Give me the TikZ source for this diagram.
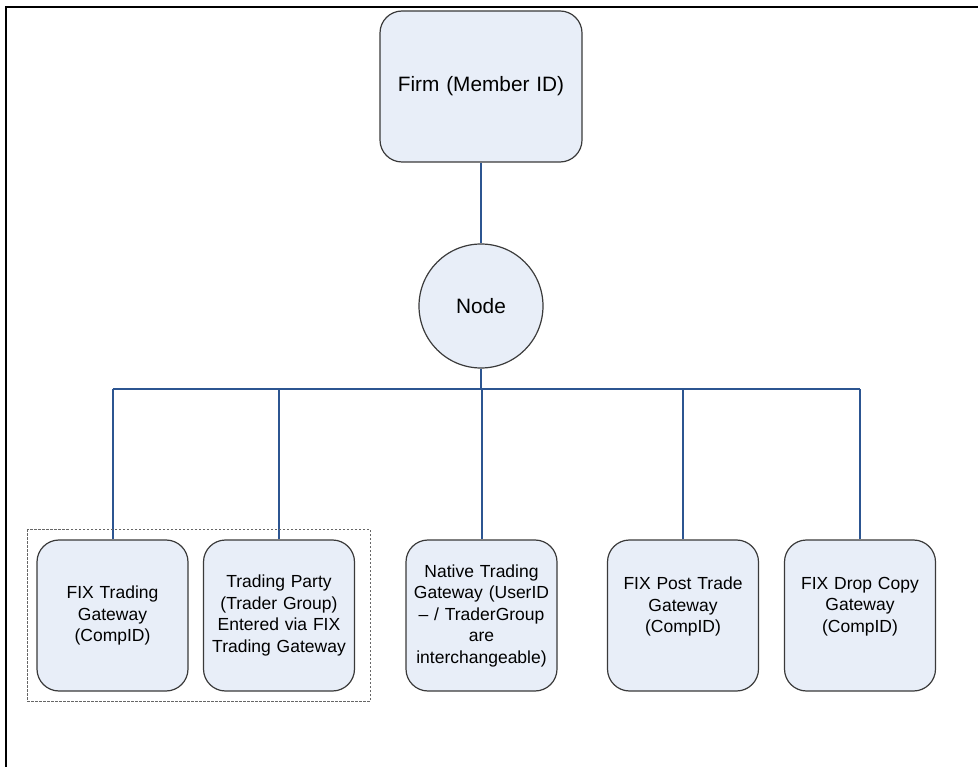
\documentclass[tikz,border=0pt]{standalone}
\usepackage{fontspec}
\setmainfont{Liberation Sans}
\usetikzlibrary{positioning}
\definecolor{boxfill}{HTML}{E8EEF8}
\definecolor{boxedge}{HTML}{3A3A3A}
\definecolor{conn}{HTML}{2C5591}
\tikzset{
  entity/.style={draw=boxedge, line width=1.2pt, fill=boxfill, rounded corners=22pt,
    minimum width=151pt, minimum height=151pt, inner sep=2pt, align=center,
    font=\fontsize{17.5}{21.5}\selectfont, text width=145pt},
  bigtext/.style={font=\fontsize{20.8}{25}\selectfont},
  hub/.style={draw=boxedge, line width=1.2pt, fill=boxfill, circle, minimum size=124pt,
    inner sep=0pt, bigtext},
  link/.style={draw=conn, line width=2pt},
  grouprect/.style={draw=gray!80!black, line width=0.9pt, dash pattern=on 2.5pt off 1.5pt},
  frameline/.style={draw=black, line width=2.6pt}
}
\begin{document}
\begin{tikzpicture}[x=1pt,y=-1pt]
\useasboundingbox (0,0) rectangle (978,767);
\draw[frameline] (6,767) -- (6,7) -- (978,7);

\node[entity, bigtext, minimum width=202pt, text width=196pt] (firm) at (481,86.5) {Firm (Member ID)};
\node[hub] (hub) at (481,306) {Node};

\node[entity] (b1) at (112.5,615.5) {FIX Trading\\Gateway\\(CompID)};
\node[entity] (b2) at (279,615.5) {Trading Party\\(Trader Group)\\Entered via FIX\\Trading Gateway};
\node[entity] (b3) at (481.5,615.5) {Native Trading\\Gateway (UserID\\– / TraderGroup\\are\\interchangeable)};
\node[entity] (b4) at (683,615.5) {FIX Post Trade\\Gateway\\(CompID)\\\mbox{}};
\node[entity] (b5) at (860,615.5) {FIX Drop Copy\\Gateway\\(CompID)\\\mbox{}};

\coordinate (bus) at (481,389);
\draw[link] (firm.south) -- (hub.north);
\draw[link] (hub.south) -- (bus);
\draw[link] (b1.north |- bus) -- (b5.north |- bus);
\foreach \b in {b1,b2,b3,b4,b5} { \draw[link] (\b.north) -- (\b.north |- bus); }

\draw[grouprect] (27,529) rectangle (370,701);
\end{tikzpicture}
\end{document}
